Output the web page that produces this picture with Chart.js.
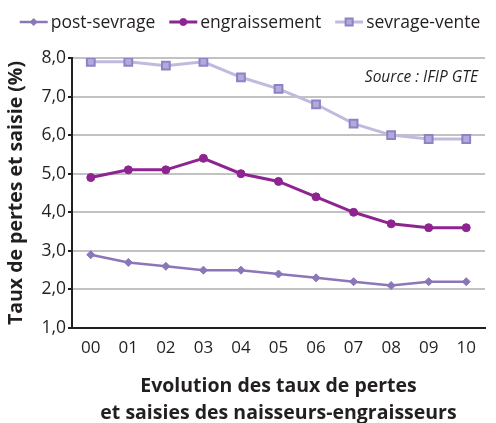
<!DOCTYPE html>
<html>
<head>
<meta charset="utf-8">
<script src="https://cdn.jsdelivr.net/npm/chart.js@4"></script>
<style>
  html, body { margin: 0; padding: 0; background: #fff; }
  #wrap { width: 496px; height: 423px; position: relative; }
</style>
</head>
<body>
<div id="wrap"><canvas id="chart" width="496" height="423"></canvas></div>
<script>
// years (2000-2010)
const years = ['00', '01', '02', '03', '04', '05', '06', '07', '08', '09', '10'];
const postSevrage = [2.9, 2.7, 2.6, 2.5, 2.5, 2.4, 2.3, 2.2, 2.1, 2.2, 2.2];
const engraissement = [4.9, 5.1, 5.1, 5.4, 5.0, 4.8, 4.4, 4.0, 3.7, 3.6, 3.6];
const sevrageVente = [7.9, 7.9, 7.8, 7.9, 7.5, 7.2, 6.8, 6.3, 6.0, 5.9, 5.9];
const yTicks = [1, 2, 3, 4, 5, 6, 7, 8];

const FONT = "'Open Sans', 'DejaVu Sans', sans-serif";
const fmt = v => v.toFixed(1).replace('.', ',');

// legend drawn by hand: line + marker, then label
const lineLegend = {
    id: 'lineLegend',
    afterDraw(chart) {
        const c = chart.ctx;
        c.save();
        c.font = '17.5px ' + FONT;
        c.textBaseline = 'middle';
        const lineLen = 28, gap = 3, itemGap = 14, y = 22;
        const items = chart.data.datasets.map(ds => ({ ds, w: lineLen + gap + c.measureText(ds.label).width }));
        const total = items.reduce((s, it) => s + it.w, 0) + itemGap * (items.length - 1);
        let x = (chart.width - total) / 2 + 2;
        items.forEach(it => {
            const ds = it.ds;
            c.strokeStyle = ds.borderColor;
            c.lineWidth = ds.borderWidth;
            c.beginPath();
            c.moveTo(x, y);
            c.lineTo(x + lineLen, y);
            c.stroke();
            const cx = x + lineLen / 2;
            c.fillStyle = ds.pointBackgroundColor;
            c.strokeStyle = ds.pointBorderColor;
            c.lineWidth = ds.pointBorderWidth;
            Chart.helpers.drawPoint(c, { pointStyle: ds.pointStyle, radius: ds.pointRadius - 0.5, borderWidth: ds.pointBorderWidth }, cx, y);
            c.fillStyle = '#231f20';
            c.textAlign = 'left';
            c.fillText(ds.label, x + lineLen + gap, y + 1);
            x += it.w + itemGap;
        });
        // source note
        const a = chart.chartArea;
        c.font = 'italic 15.5px ' + FONT;
        c.textAlign = 'right';
        c.fillText('Source : IFIP GTE', a.right - 7, a.top + 20);
        c.restore();
    }
};

new Chart(document.getElementById('chart'), {
    type: 'line',
    data: {
        labels: years,
        datasets: [
            {
                label: 'post-sevrage',
                data: postSevrage,
                borderColor: '#8b76b8',
                borderWidth: 2.5,
                pointStyle: 'rectRot',
                pointRadius: 4,
                pointBackgroundColor: '#8b76b8',
                pointBorderColor: '#8b76b8',
                pointBorderWidth: 1
            },
            {
                label: 'engraissement',
                data: engraissement,
                borderColor: '#8e2490',
                borderWidth: 3,
                pointStyle: 'circle',
                pointRadius: 4,
                pointBackgroundColor: '#8e2490',
                pointBorderColor: '#8e2490',
                pointBorderWidth: 1
            },
            {
                label: 'sevrage-vente',
                data: sevrageVente,
                borderColor: '#c2b9df',
                borderWidth: 3,
                pointStyle: 'rect',
                pointRadius: 5.5,
                pointBackgroundColor: '#b3a9da',
                pointBorderColor: '#8d83c4',
                pointBorderWidth: 2
            }
        ]
    },
    options: {
        responsive: false,
        animation: false,
        layout: { padding: { top: 58, right: 11, left: 0, bottom: 0 } },
        plugins: {
            legend: { display: false },
            tooltip: { enabled: false }
        },
        scales: {
            x: {
                offset: true,
                grid: { display: false, drawTicks: false },
                border: { color: '#231f20', width: 2 },
                ticks: { color: '#231f20', font: { family: FONT, size: 17 }, padding: 10, maxRotation: 0 },
                title: {
                    display: true,
                    text: ['Evolution des taux de pertes', 'et saisies des naisseurs-engraisseurs'],
                    color: '#231f20',
                    font: { family: FONT, size: 19.5, weight: 'bold', lineHeight: 1.4 },
                    padding: { top: 13, bottom: -4 }
                },
                afterFit(scale) { scale.height = 95; }
            },
            y: {
                min: 1,
                max: 8,
                afterBuildTicks(scale) { scale.ticks = yTicks.map(v => ({ value: v })); },
                grid: { color: '#c2c2c4', lineWidth: 2, drawTicks: true, tickLength: 4, tickColor: '#231f20' },
                border: { color: '#231f20', width: 2 },
                ticks: { color: '#231f20', font: { family: FONT, size: 17.5 }, padding: 2, callback: v => fmt(v) },
                title: {
                    display: true,
                    text: 'Taux de pertes et saisie (%)',
                    color: '#231f20',
                    font: { family: FONT, size: 19.5, weight: 'bold' },
                    padding: { top: 5, bottom: 0 }
                },
                afterFit(scale) { scale.width = 72; }
            }
        }
    },
    plugins: [lineLegend]
});
</script>
</body>
</html>
